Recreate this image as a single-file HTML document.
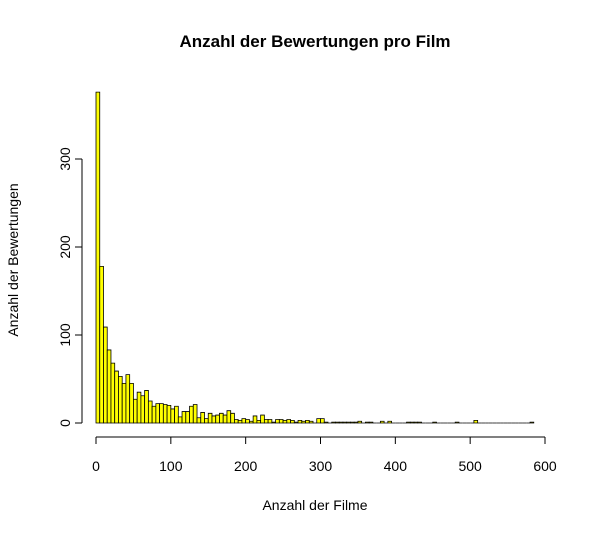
<!DOCTYPE html>
<html><head><meta charset="utf-8"><style>
body{margin:0;background:#fff}
svg text{font-family:"Liberation Sans",sans-serif;fill:#000}
</style></head><body>
<svg id="chart" width="591" height="535" xmlns="http://www.w3.org/2000/svg">
<text x="315" y="47" text-anchor="middle" font-size="17" font-weight="bold">Anzahl der Bewertungen pro Film</text>
<text x="315" y="510" text-anchor="middle" font-size="14">Anzahl der Filme</text>
<text transform="translate(18,260) rotate(-90)" text-anchor="middle" font-size="14">Anzahl der Bewertungen</text>
<g id="bars"></g>
<g id="axes"></g>
</svg>
<script>
const binWidth = 5;
const counts = [376,178,109,83,68,59,53,45,55,45,27,35,31,37,25,19,22,22,21,20,16,
19,7,13,13,19,21,6,12,5,11,8,9,11,9,14,11,4,3,5,4,2,8,3,9,4,4,1,4,4,3,4,3,1,3,2,3,2,0,5,5,1,0,1,1,1,1,1,1,1,2,
0,1,1,0,0,2,0,2,0,0,0,0,1,1,1,1,0,0,0,1,0,0,0,0,0,1,0,0,0,0,3,0,0,0,0,0,0,0,0,0,0,0,0,0,0,1];
const xTicks = [0,100,200,300,400,500,600];
const yTicks = [0,100,200,300];
const NS="http://www.w3.org/2000/svg";
const xs = v => 96 + v*(449/600);
const ys = v => 423 - v*0.88;
const bars=document.getElementById('bars'), axes=document.getElementById('axes');
function mk(tag,attrs,parent){const e=document.createElementNS(NS,tag);for(const k in attrs)e.setAttribute(k,attrs[k]);parent.appendChild(e);return e;}
counts.forEach((c,i)=>{
  const x0=xs(i*binWidth), x1=xs((i+1)*binWidth), y0=ys(0), y1=ys(c);
  const r=mk('path',{d:`M${x0},${y0}L${x0},${y1}L${x1},${y1}L${x1},${y0}Z`,fill:'#ffff00',stroke:'#000','stroke-width':0.8},bars);
  
  
});
mk('line',{x1:xs(0),x2:xs(600),y1:437,y2:437,stroke:'#000'},axes);
xTicks.forEach(t=>{
  mk('line',{x1:xs(t),x2:xs(t),y1:437,y2:444,stroke:'#000'},axes);
  const tx=mk('text',{x:xs(t),y:471,'text-anchor':'middle','font-size':14},axes);
  tx.textContent=t;
  
  
});
mk('line',{x1:82,x2:82,y1:ys(0),y2:ys(300),stroke:'#000'},axes);
yTicks.forEach(t=>{
  mk('line',{x1:75,x2:82,y1:ys(t),y2:ys(t),stroke:'#000'},axes);
  const tx=mk('text',{transform:`translate(70,${ys(t)}) rotate(-90)`,'text-anchor':'middle','font-size':14},axes);
  tx.textContent=t;
  
  
});
</script>
</body></html>
